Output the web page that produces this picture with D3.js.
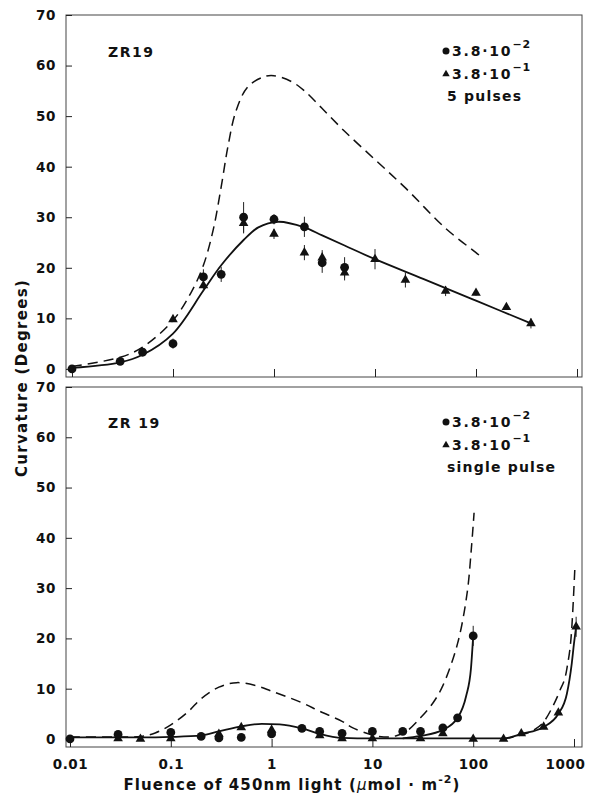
<!DOCTYPE html>
<html><head><meta charset="utf-8">
<script src="https://cdn.jsdelivr.net/npm/d3@7"></script>
<style>
body{margin:0;background:#fff;}
svg text{font-family:"DejaVu Sans",sans-serif;font-weight:bold;fill:#111;}
</style></head><body>
<svg id="chart" width="590" height="796"></svg>
<script>
// ---- data ----
const yTicks = [0, 10, 20, 30, 40, 50, 60, 70];
const xTicks = [0.01, 0.1, 1, 10, 100, 1000];
const xTickLabels = ["0.01", "0.1", "1", "10", "100", "1000"];
const yTitle = "Curvature (Degrees)";
const panelLabels = ["ZR19", "ZR 19"];
const legendLabels = ["3.8·10", "3.8·10"];
const legendExps = ["−2", "−1"];
const panelNotes = ["5 pulses", "single pulse"];

// top panel (5 pulses): [fluence, curvature, error]
const topCircles = [[0.01,0,0],[0.03,1.5,0],[0.05,3.3,0],[0.1,5,1],[0.2,18.2,1.5],[0.3,18.7,1.5],[0.5,30,3],[1,29.6,1],[2,28.1,2],[3,21,2],[5,20.1,2]];
const topTriangles = [[0.1,9.8,0.5],[0.2,16.5,1],[0.5,28.8,2],[1,26.7,1],[2,23,1.5],[3,22,1.5],[5,19,1.5],[10,21.7,2],[20,17.6,1.5],[50,15.4,1],[100,15,0.5],[200,12.2,0.5],[350,9,1]];
const topFit = [[0.01,0.2],[0.03,1.3],[0.05,2.8],[0.1,7],[0.2,15.5],[0.3,20.5],[0.5,25.5],[0.7,28],[1.1,29.1],[2,28],[3,26.4],[5,24.4],[10,21.7],[30,17.8],[100,13.5],[350,9]];
const topDashed = [[0.01,0.5],[0.03,2.3],[0.05,4.3],[0.1,9.6],[0.15,15],[0.2,20.5],[0.25,27.5],[0.3,36],[0.35,44],[0.42,51],[0.55,55.8],[0.8,57.8],[1,58],[1.5,56.8],[2,55],[3,51.5],[5,47],[10,41.4],[20,35.8],[50,27.8],[100,23],[115,22]];

// bottom panel (single pulse)
const botCircles = [[0.01,0,0],[0.03,0.9,0],[0.1,1.3,0],[0.2,0.5,0],[0.3,0.2,0],[0.5,0.3,0],[1,1.0,0],[2,2.1,0],[3,1.5,0],[5,1.1,0],[10,1.5,0],[20,1.5,0],[30,1.5,0],[50,2.2,0],[70,4.2,0],[100,20.5,2]];
const botTriangles = [[0.03,0.1,0],[0.05,0,0],[0.1,0.1,0],[0.3,1.0,0],[0.5,2.3,0],[1,1.8,0],[3,0.7,0],[5,0.1,0],[10,0.1,0],[30,0.1,0],[50,1.1,0],[100,0,0],[200,0,0],[300,1.1,0],[500,2.4,0],[700,5.2,0],[1050,22.3,2]];
const botFit = [[0.01,0.3],[0.05,0.3],[0.1,0.4],[0.2,0.7],[0.3,1.5],[0.5,2.5],[0.8,3.0],[1.2,2.9],[2,2.1],[3,1.0],[5,0.2],[10,0.1],[20,0.1],[50,0.1],[100,0.1],[200,0.1],[300,1.0],[500,2.4],[700,5],[850,9],[950,15],[1000,19],[1050,22.3]];
const botFitCircles = [[20,0.1],[30,0.6],[50,1.8],[70,4.2],[85,8.5],[95,14],[100,20.5]];
const botDashedA = [[0.01,0.4],[0.03,0.4],[0.05,0.5],[0.07,1.2],[0.1,2.8],[0.15,5.5],[0.2,8],[0.3,10.3],[0.45,11.2],[0.7,10.6],[1,9.5],[2,7.2],[3,5.5],[5,3.5],[6.4,2.2],[10,0.8],[13,0.4],[17,0.6],[22,1.6],[30,4.2],[40,7.2],[50,10.6],[70,19],[87,29],[96,38],[102,45]];
const botDashedB = [[200,0],[300,0.8],[400,1.8],[500,3.4],[620,6.6],[720,9.5],[850,14],[950,22],[1020,34]];

// ---- drawing ----
const svg = d3.select("#chart");
const frameLeft = 66, frameRight = 582;
const smooth = d3.curveCatmullRom.alpha(0.5);
const mono = d3.curveMonotoneX;

const panels = [
  {top:15, bottom:377, xr:[72,577], circles:topCircles, triangles:topTriangles,
   fits:[[topFit, smooth]], dashed:[[topDashed, smooth]], showXLabels:false, labelY:57, legY:[56,79,101]},
  {top:387, bottom:747, xr:[70,574], circles:botCircles, triangles:botTriangles,
   fits:[[botFit, mono],[botFitCircles, mono]], dashed:[[botDashedA, smooth],[botDashedB, mono]], showXLabels:true, labelY:428, legY:[427,450,472]}
];

panels.forEach((p, i) => {
  const x = d3.scaleLog().domain([0.01, 1000]).range(p.xr);
  const y = d3.scaleLinear().domain([-1.6, 70]).range([p.bottom, p.top]);
  const g = svg.append("g");

  // frame
  g.append("rect").attr("x", frameLeft).attr("y", p.top)
    .attr("width", frameRight - frameLeft).attr("height", p.bottom - p.top)
    .attr("fill", "none").attr("stroke", "#444").attr("stroke-width", 1);

  // y axis
  const ya = d3.axisLeft(y).tickValues(yTicks).tickSize(-6).tickPadding(10).tickFormat(d3.format("d"));
  const yg = g.append("g").attr("transform", `translate(${frameLeft},0)`).call(ya);
  yg.select(".domain").remove();
  yg.selectAll("line").attr("stroke", "#222");
  yg.selectAll("text").style("font-size", "13.5px").style("letter-spacing", "0.6px");

  // x axis
  const xa = d3.axisBottom(x).tickValues(xTicks).tickSize(-8).tickPadding(12)
    .tickFormat((d, k) => p.showXLabels ? xTickLabels[k] : "");
  const xg = g.append("g").attr("transform", `translate(0,${p.bottom})`).call(xa);
  xg.select(".domain").remove();
  xg.selectAll("line").attr("stroke", "#222");
  xg.selectAll("text").style("font-size", "13.5px").style("letter-spacing", "0.6px")
    .attr("dx", d => d === 1000 ? -9 : 0);

  const mkLine = c => d3.line().x(d => x(d[0])).y(d => y(d[1])).curve(c);

  p.dashed.forEach(([ds, c]) => {
    g.append("path").attr("d", mkLine(c)(ds)).attr("fill", "none").attr("stroke", "#111")
      .attr("stroke-width", 1.5).attr("stroke-dasharray", "10,6");
  });
  p.fits.forEach(([fs, c]) => {
    g.append("path").attr("d", mkLine(c)(fs)).attr("fill", "none").attr("stroke", "#111")
      .attr("stroke-width", 1.8);
  });

  // error bars
  const allPts = p.circles.concat(p.triangles).filter(d => d[2] > 0);
  g.selectAll(".err").data(allPts).join("line")
    .attr("x1", d => x(d[0])).attr("x2", d => x(d[0]))
    .attr("y1", d => y(d[1] + d[2])).attr("y2", d => y(d[1] - d[2]))
    .attr("stroke", "#222").attr("stroke-width", 1);

  // markers
  g.selectAll(".tri").data(p.triangles).join("path")
    .attr("d", d3.symbol(d3.symbolTriangle).size(40))
    .attr("transform", d => `translate(${x(d[0])},${y(d[1])})`)
    .attr("fill", "#111");
  g.selectAll(".cir").data(p.circles).join("circle")
    .attr("cx", d => x(d[0])).attr("cy", d => y(d[1])).attr("r", 4.4)
    .attr("fill", "#111");

  // panel label
  g.append("text").attr("x", 108).attr("y", p.labelY).text(panelLabels[i])
    .style("font-size", "14px").style("letter-spacing", "1.5px");

  // legend
  const lx = 446;
  g.append("circle").attr("cx", lx).attr("cy", p.legY[0] - 5).attr("r", 3.5).attr("fill", "#111");
  g.append("path").attr("d", d3.symbol(d3.symbolTriangle).size(24)())
    .attr("transform", `translate(${lx},${p.legY[1] - 5})`).attr("fill", "#111");
  [0, 1].forEach(k => {
    const t = g.append("text").attr("x", lx + 6).attr("y", p.legY[k])
      .style("font-size", "14px").style("letter-spacing", "1.8px");
    t.append("tspan").text(legendLabels[k]);
    t.append("tspan").attr("dy", -8).style("font-size", "11px").style("letter-spacing", "1px").text(legendExps[k]);
  });
  g.append("text").attr("x", lx + 1).attr("y", p.legY[2]).text(panelNotes[i])
    .style("font-size", "14px").style("letter-spacing", "1.2px");
});

// axis titles
svg.append("text").attr("transform", "translate(27,378) rotate(-90)")
  .attr("text-anchor", "middle").style("font-size", "15px").style("letter-spacing", "1.3px")
  .text(yTitle);

const xt = svg.append("text").attr("x", 292).attr("y", 790).attr("text-anchor", "middle")
  .style("font-size", "15px").style("letter-spacing", "1.1px");
xt.append("tspan").text("Fluence of 450nm light (");
xt.append("tspan").style("font-weight", "normal").style("font-style", "italic").text("μ");
xt.append("tspan").text("mol · m");
xt.append("tspan").attr("dy", -7).style("font-size", "11px").text("-2");
xt.append("tspan").attr("dy", 7).text(")");
</script>
</body></html>
